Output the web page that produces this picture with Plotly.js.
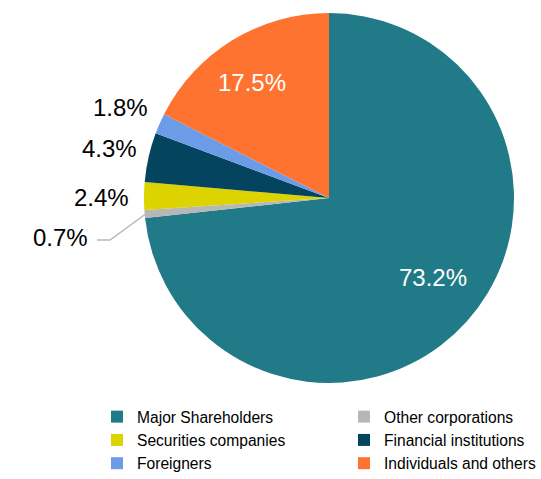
<!DOCTYPE html>
<html>
<head>
<meta charset="utf-8">
<script src="https://cdn.plot.ly/plotly-3.0.1.min.js"></script>
<style>html,body{margin:0;padding:0;background:#fff;}#chart{width:541px;height:479px;}</style>
</head>
<body>
<div id="chart"></div>
<script>
const categories = ["Major Shareholders", "Other corporations", "Securities companies", "Financial institutions", "Foreigners", "Individuals and others"];
const shares = [73.2, 0.7, 2.4, 4.3, 1.8, 17.5];
const colors = ["#217a87", "#b7b7b7", "#dcd300", "#05445f", "#6c9be8", "#ff7331"];

const W = 541, H = 479;
// label positions (px) for each slice's percentage text
const labelPos = {0: [433, 277], 1: [60, 237], 2: [101, 197], 3: [109, 148], 4: [120, 107], 5: [252, 83]};
const insideSlices = [0, 5];

const annotations = Object.keys(labelPos).map(k => ({
  text: shares[k].toFixed(1) + "%",
  x: labelPos[k][0] / W, y: 1 - labelPos[k][1] / H,
  xref: "paper", yref: "paper", xanchor: "center", yanchor: "middle",
  showarrow: false,
  font: {family: "Liberation Sans, Arial, sans-serif", size: 24,
         color: insideSlices.includes(+k) ? "#ffffff" : "#000000"}
}));

const trace = {
  type: "pie",
  labels: categories,
  values: shares,
  sort: false,
  direction: "clockwise",
  rotation: 0,
  marker: {colors: colors, line: {color: "#ffffff", width: 0}},
  textinfo: "none",
  textposition: "none",
  hoverinfo: "label+value",
  domain: {x: [144 / W, 514 / W], y: [1 - 383 / H, 1 - 13 / H]}
};

// leader line for 0.7% label
const shapes = [{
  type: "path", xref: "paper", yref: "paper",
  path: `M ${147/W} ${1-213/H} L ${110/W} ${1-240/H} L ${97/W} ${1-240/H}`,
  line: {color: "#b7b7b7", width: 1.5}
}];

const layout = {
  width: W, height: H,
  margin: {l: 0, r: 0, t: 0, b: 0, autoexpand: false},
  paper_bgcolor: "#ffffff",
  showlegend: true,
  legend: {
    orientation: "h", x: 97 / W, y: 1 - 400 / H, xanchor: "left", yanchor: "top",
    entrywidth: 202, entrywidthmode: "pixels",
    font: {family: "Liberation Sans, Arial, sans-serif", size: 15.6, color: "#000"},
    traceorder: "normal"
  },
  annotations: annotations,
  shapes: shapes
};

Plotly.newPlot("chart", [trace], layout, {displayModeBar: false, staticPlot: true});
</script>
</body>
</html>
